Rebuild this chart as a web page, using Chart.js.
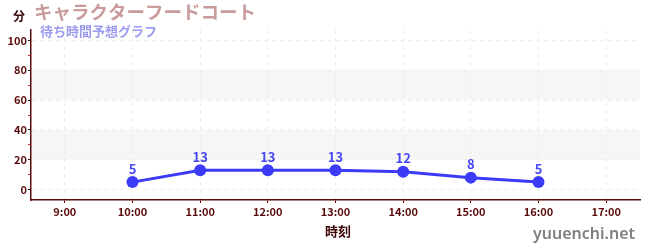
<!DOCTYPE html>
<html>
<head>
<meta charset="utf-8">
<script src="https://cdn.jsdelivr.net/npm/chart.js@4.4.1/dist/chart.umd.min.js"></script>
<style>
html, body { margin: 0; padding: 0; background: #fff; }
#wrap { width: 650px; height: 250px; position: relative; }
</style>
</head>
<body>
<div id="wrap"><canvas id="myChart" width="650" height="250"></canvas></div>
<script>
// data
const hours = ['9:00', '10:00', '11:00', '12:00', '13:00', '14:00', '15:00', '16:00', '17:00'];
const waitTimes = [null, 5, 13, 13, 13, 12, 8, 5, null];
const yTickValues = [0, 10, 20, 30, 40, 50, 60, 70, 80, 90, 100];
const bands = [[20, 40], [60, 80]];

const FONT = '"Noto Sans CJK JP", "Noto Sans", sans-serif';
const BLUE = '#3c3cf8';
const AXIS = '#5a0a0a';

// background + shaded bands
const bandPlugin = {
    id: 'bands',
    beforeDraw(chart) {
        const {ctx, chartArea, scales: {y}} = chart;
        ctx.save();
        ctx.fillStyle = '#fff';
        ctx.fillRect(0, 0, chart.width, chart.height);
        ctx.fillStyle = '#f6f6f6';
        bands.forEach(b => {
            const top = y.getPixelForValue(b[1]);
            const bottom = y.getPixelForValue(b[0]);
            ctx.fillRect(chartArea.left, top, chartArea.right - chartArea.left, bottom - top);
        });
        ctx.restore();
    }
};

// value labels over points
const labelPlugin = {
    id: 'pointLabels',
    afterDatasetsDraw(chart) {
        const {ctx} = chart;
        const meta = chart.getDatasetMeta(0);
        ctx.save();
        ctx.font = 'bold 13px ' + FONT;
        ctx.fillStyle = '#4646f2';
        ctx.textAlign = 'center';
        ctx.textBaseline = 'bottom';
        meta.data.forEach((pt, i) => {
            if (waitTimes[i] == null) return;
            ctx.fillText(waitTimes[i], pt.x, pt.y - 7);
        });
        ctx.restore();
    }
};

// titles and other texts
const textPlugin = {
    id: 'texts',
    afterDraw(chart) {
        const {ctx} = chart;
        ctx.save();
        ctx.textBaseline = 'middle';
        ctx.textAlign = 'left';
        ctx.font = 'bold 18.5px ' + FONT;
        ctx.fillStyle = '#c99b9b';
        ctx.fillText('キャラクターフードコート', 34, 12);
        ctx.font = 'bold 13px ' + FONT;
        ctx.fillStyle = '#9c9cf0';
        ctx.fillText('待ち時間予想グラフ', 40, 31);
        ctx.font = 'bold 12px ' + FONT;
        ctx.fillStyle = '#3a0505';
        ctx.fillText('分', 13, 16);
        ctx.textAlign = 'center';
        ctx.font = 'bold 13px ' + FONT;
        ctx.fillText('時刻', 338, 231);
        ctx.textAlign = 'right';
        ctx.font = '600 16px "Noto Sans", sans-serif';
        ctx.fillStyle = '#808080';
        ctx.fillText('yuuenchi.net', 635, 234);
        ctx.restore();
    }
};

let myChart = new Chart(document.getElementById('myChart'), {
    type: 'line',
    data: {
        labels: hours,
        datasets: [{
            data: waitTimes,
            borderColor: BLUE,
            backgroundColor: BLUE,
            borderWidth: 3,
            pointRadius: 6,
            pointHoverRadius: 6,
            pointBackgroundColor: BLUE,
            pointBorderWidth: 0,
            tension: 0,
            spanGaps: false
        }]
    },
    options: {
        responsive: false,
        animation: false,
        devicePixelRatio: 1,
        layout: { padding: { top: 30, right: 10, left: 0, bottom: 0 } },
        plugins: { legend: { display: false }, tooltip: { enabled: false } },
        scales: {
            x: {
                type: 'category',
                offset: true,
                afterFit(scale) { scale.height = 50; },
                grid: {
                    color: '#ededed',
                    tickColor: AXIS,
                    tickLength: 3,
                    offset: false
                },
                border: { color: AXIS, width: 1.5, dash: [4, 4] },
                ticks: {
                    color: AXIS,
                    padding: 2,
                    autoSkip: false,
                    maxRotation: 0,
                    font: { family: FONT, size: 11, weight: 'bold' }
                }
            },
            y: {
                min: -7,
                max: 107,
                afterFit(scale) { scale.width = 31; },
                afterBuildTicks(scale) {
                    scale.ticks = yTickValues.map(v => ({ value: v }));
                },
                grid: {
                    color: ctx => ctx.tick && ctx.tick.value % 20 === 0 ? '#ededed' : 'transparent',
                    tickColor: ctx => ctx.tick && ctx.tick.value % 20 === 0 ? '#222' : '#d22',
                    tickLength: 3
                },
                border: { color: AXIS, width: 1.5, dash: [4, 4] },
                ticks: {
                    color: AXIS,
                    padding: 1,
                    autoSkip: false,
                    callback: v => v % 20 === 0 ? v : '',
                    font: { family: FONT, size: 11, weight: 'bold' }
                }
            }
        }
    },
    plugins: [bandPlugin, labelPlugin, textPlugin]
});
</script>
</body>
</html>
